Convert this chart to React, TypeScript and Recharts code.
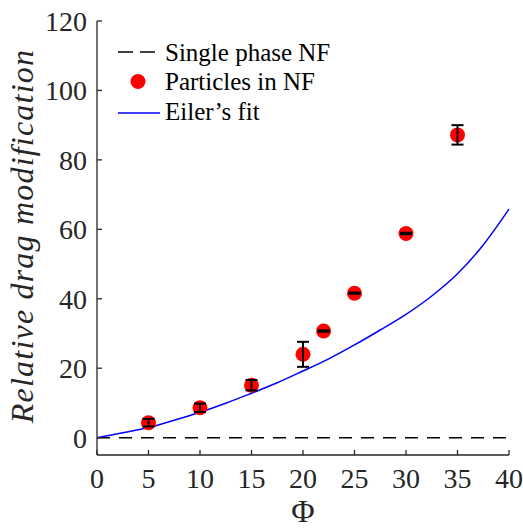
import React from "react";
import {
  ComposedChart,
  Line,
  Scatter,
  ErrorBar,
  XAxis,
  YAxis,
} from "recharts";

// Φ values for particle measurements
const particlesPhi = [5, 10, 15, 20, 22, 25, 30, 35];
const particlesDrag = [4.3, 8.6, 15.1, 24.0, 30.7, 41.6, 58.8, 87.2];
const particlesErr = [1.1, 1.2, 1.5, 3.6, 0.2, 0.2, 0.2, 2.8];

// Eiler's fit
const fitPhi = [0, 2.5, 5, 7.5, 10, 12.5, 15, 17.5, 20, 22.5, 25, 27.5, 30, 32.5, 35, 37.5, 40];
const fitDrag = [0, 1.4, 2.9, 5.0, 7.3, 9.9, 12.8, 15.8, 19.2, 22.7, 26.7, 31.0, 35.5, 40.8, 47.2, 55.5, 65.8];

// single phase baseline
const singlePhi = [0, 40];
const singleDrag = [0, 0];

const xTicks = [0, 5, 10, 15, 20, 25, 30, 35, 40];
const yTicks = [0, 20, 40, 60, 80, 100, 120];

const particles = particlesPhi.map((x, i) => ({ x, y: particlesDrag[i], err: particlesErr[i] }));
const fit = fitPhi.map((x, i) => ({ x, y: fitDrag[i] }));
const single = singlePhi.map((x, i) => ({ x, y: singleDrag[i] }));

const AXIS = "#262626";
const FONT = "Liberation Serif, DejaVu Serif, serif";

const Empty = () => <g />;

function Legend() {
  const rows = [52, 81.5, 111];
  return (
    <svg
      width={523}
      height={529}
      style={{ position: "absolute", left: 0, top: 0, pointerEvents: "none" }}
    >
      <line x1={118} x2={156} y1={rows[0]} y2={rows[0]} stroke="#000" strokeWidth={1.5} strokeDasharray="15 7" />
      <circle cx={138} cy={rows[1]} r={7.5} fill="#ff0000" />
      <line x1={118} x2={160} y1={rows[2] + 2} y2={rows[2] + 2} stroke="#0000ff" strokeWidth={1.5} />
      {["Single phase NF", "Particles in NF", "Eiler\u2019s fit"].map((t, i) => (
        <text key={t} x={165} y={rows[i]} dy="0.35em" style={{ fontFamily: FONT }} fontSize={25} fill="#000">
          {t}
        </text>
      ))}
    </svg>
  );
}

export default function App() {
  return (
    <div style={{ position: "absolute", left: 0, top: 0, width: 523, height: 529, background: "#fff", fontFamily: FONT }}>
      <ComposedChart
        width={523}
        height={529}
        margin={{ top: 21, right: 14, bottom: 0, left: 0 }}
        style={{ fontFamily: FONT }}
      >
        <XAxis
          dataKey="x"
          type="number"
          domain={[0, 40]}
          ticks={xTicks}
          height={74}
          stroke={AXIS}
          strokeWidth={1.3}
          tickSize={-5}
          tickMargin={18}
          tick={{ fill: AXIS, fontSize: 28, style: { fontFamily: FONT } }}
          label={{
            content: (p: any) => (
              <text
                x={p.viewBox.x + p.viewBox.width / 2}
                y={p.viewBox.y + 67}
                textAnchor="middle"
                style={{ fontFamily: FONT }}
                fontSize={32}
                fill={AXIS}
              >
                Φ
              </text>
            ),
          }}
        />
        <YAxis
          dataKey="y"
          type="number"
          domain={[-5, 120]}
          ticks={yTicks}
          width={97}
          stroke={AXIS}
          strokeWidth={1.3}
          tickSize={-5}
          tickMargin={15}
          tick={{ fill: AXIS, fontSize: 28, style: { fontFamily: FONT } }}
          label={{
            content: (p: any) => {
              const cx = p.viewBox.x + 33;
              const cy = p.viewBox.y + p.viewBox.height / 2 - 2;
              return (
                <text
                  x={cx}
                  y={cy}
                  transform={`rotate(-90 ${cx} ${cy})`}
                  textAnchor="middle"
                  style={{ fontFamily: FONT }}
                  fontStyle="italic"
                  fontSize={32}
                  letterSpacing={1.2}
                  fill={AXIS}
                >
                  Relative drag modification
                </text>
              );
            },
          }}
        />
        <Line
          data={single}
          dataKey="y"
          stroke="#000"
          strokeWidth={1.5}
          strokeDasharray="13 9"
          dot={false}
          isAnimationActive={false}
        />
        <Line
          data={fit}
          dataKey="y"
          type="monotone"
          stroke="#0000ff"
          strokeWidth={1.5}
          dot={false}
          isAnimationActive={false}
        />
        {/* red markers drawn as dots of a stroke-less line so the error bars sit on top */}
        <Line
          data={particles}
          dataKey="y"
          stroke="none"
          dot={{ r: 7.5, fill: "#ff0000", stroke: "none" }}
          activeDot={false}
          isAnimationActive={false}
        />
        <Scatter data={particles} dataKey="y" shape={Empty} isAnimationActive={false}>
          <ErrorBar dataKey="err" direction="y" width={6} strokeWidth={2} stroke="#000" zIndex={700} />
        </Scatter>
      </ComposedChart>
      <Legend />
    </div>
  );
}
